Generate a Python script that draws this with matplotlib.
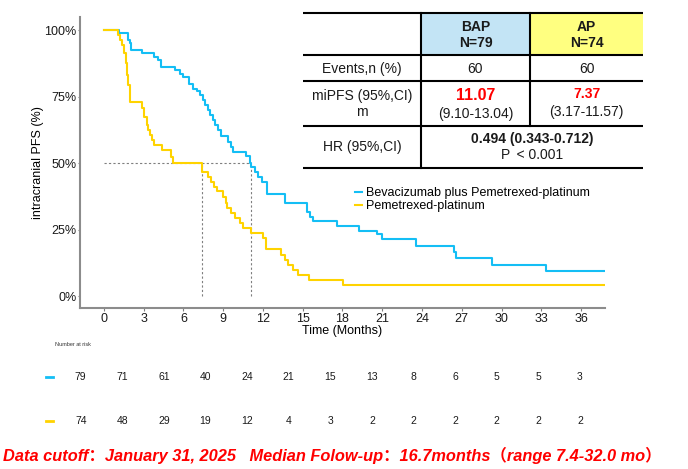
import matplotlib.pyplot as plt
from matplotlib.lines import Line2D
from matplotlib.patches import Rectangle

plt.rcParams['font.family'] = ['Liberation Sans', 'Noto Sans CJK SC', 'DejaVu Sans']

# --- dados ---
bap_t = [0, 1.1, 1.85, 1.95, 2.04, 2.84, 3.77, 4.1, 4.3, 5.35, 5.7, 6.0, 6.45, 6.75, 7.0,
         7.25, 7.5, 7.65, 7.87, 8.0, 8.25, 8.4, 8.63, 8.8, 9.35, 9.6, 9.76, 10.7, 11.0,
         11.1, 11.4, 11.65, 11.9, 12.28, 13.66, 15.3, 15.55, 15.75, 17.6, 19.27, 20.63,
         20.95, 23.55, 26.42, 26.6, 29.26, 33.33, 37.8]
bap_s = [1.0, 0.987, 0.962, 0.95, 0.925, 0.912, 0.899, 0.886, 0.861, 0.848, 0.835, 0.823,
         0.797, 0.78, 0.772, 0.756, 0.737, 0.718, 0.70, 0.68, 0.662, 0.643, 0.624, 0.60,
         0.58, 0.561, 0.54, 0.525, 0.50, 0.486, 0.467, 0.449, 0.43, 0.383, 0.349, 0.317,
         0.298, 0.283, 0.263, 0.246, 0.232, 0.213, 0.188, 0.167, 0.142, 0.117, 0.095, 0.095]

ap_t = [0, 1.02, 1.21, 1.33, 1.53, 1.63, 1.71, 1.84, 1.96, 2.84, 3.04, 3.22, 3.35, 3.47,
        3.65, 3.8, 4.35, 5.06, 5.23, 7.37, 7.87, 8.07, 8.32, 8.5, 8.95, 9.2, 9.32, 9.62,
        9.92, 10.25, 10.5, 11.08, 12.0, 12.2, 13.33, 13.66, 13.86, 14.24, 14.62, 15.5,
        18.07, 37.8]
ap_s = [1.0, 0.981, 0.962, 0.944, 0.912, 0.875, 0.831, 0.793, 0.731, 0.706, 0.674, 0.643,
        0.624, 0.605, 0.586, 0.568, 0.549, 0.524, 0.50, 0.467, 0.449, 0.43, 0.411, 0.393,
        0.373, 0.35, 0.33, 0.311, 0.292, 0.274, 0.255, 0.236, 0.218, 0.176, 0.155, 0.136,
        0.117, 0.098, 0.079, 0.06, 0.041, 0.041]

medians = [11.07, 7.37]
risk_times = [0, 3, 6, 9, 12, 15, 18, 21, 24, 27, 30, 33, 36]
risk_bap = [79, 71, 61, 40, 24, 21, 15, 13, 8, 6, 5, 5, 3]
risk_ap = [74, 48, 29, 19, 12, 4, 3, 2, 2, 2, 2, 2, 2]
group_labels = ['Bevacizumab plus Pemetrexed-platinum', 'Pemetrexed-platinum']

BLUE = '#14BEF5'
YELLOW = '#FFD300'
W, H = 688, 469


def fx(px):
    return px / W


def fy(py):
    return 1 - py / H


fig = plt.figure(figsize=(6.88, 4.69), dpi=100)

# --- curva de KM ---
ax = fig.add_axes([fx(80), fy(308), (605 - 80) / W, (308 - 17) / H])
ax.step(bap_t, bap_s, where='post', color=BLUE, lw=1.5, zorder=3)
ax.step(ap_t, ap_s, where='post', color=YELLOW, lw=1.5, zorder=3)

# linhas das medianas
ax.plot([0, max(medians)], [0.5, 0.5], color='#7f7f7f', lw=0.8, ls=(0, (2, 2)), zorder=2)
for m in medians:
    ax.plot([m, m], [0, 0.5], color='#7f7f7f', lw=0.8, ls=(0, (2, 2)), zorder=2)

ax.set_xlim(-1.81, 37.81)
ax.set_ylim(-0.045, 1.049)
ax.set_xticks(risk_times)
ax.set_yticks([0, 0.25, 0.5, 0.75, 1.0])
ax.set_yticklabels(['0%', '25%', '50%', '75%', '100%'])
ax.tick_params(labelsize=9, colors='#7f7f7f', width=0.8, labelcolor='#1a1a1a')
ax.tick_params(axis='x', length=2.5, pad=1)
ax.tick_params(axis='y', length=1.5, pad=1)
for s in ['top', 'right']:
    ax.spines[s].set_visible(False)
for s in ['left', 'bottom']:
    ax.spines[s].set_color('#8c8c8c')
    ax.spines[s].set_linewidth(1.5)
ax.set_xlabel('Time (Months)', fontsize=9, labelpad=0)
ax.set_ylabel('intracranial PFS (%)', fontsize=9, labelpad=0)

handles = [Line2D([], [], color=BLUE, lw=1.5), Line2D([], [], color=YELLOW, lw=1.5)]
fig.legend(handles, group_labels, loc='upper left', bbox_to_anchor=(fx(355), fy(187)),
           frameon=False, fontsize=9, handlelength=0.55, handletextpad=0.35,
           labelspacing=0.1, borderpad=0, borderaxespad=0)

# --- tabela ---
tb = fig.add_axes([0, 0, 1, 1], zorder=5)
tb.set_xlim(0, W)
tb.set_ylim(H, 0)
tb.axis('off')
tb.add_patch(Rectangle((303, 13), 340, 155, facecolor='white', edgecolor='none'))
tb.add_patch(Rectangle((421, 13), 109, 42, facecolor='#C3E4F5', edgecolor='none'))
tb.add_patch(Rectangle((530, 13), 113, 42, facecolor='#FFFF80', edgecolor='none'))
for yl in [13, 55, 81, 126, 168]:
    tb.plot([303, 643], [yl, yl], color='black', lw=1.5, solid_capstyle='butt')
tb.plot([421, 421], [13, 168], color='black', lw=1.5)
tb.plot([530, 530], [13, 126], color='black', lw=1.5)

tkw = dict(ha='center', va='center', fontsize=10, color='#1a1a1a')
tb.text(475.5, 27, 'BAP', fontweight='bold', **tkw)
tb.text(475.5, 43, 'N=79', fontweight='bold', **tkw)
tb.text(586.5, 27, 'AP', fontweight='bold', **tkw)
tb.text(586.5, 43, 'N=74', fontweight='bold', **tkw)
tb.text(362, 69, 'Events,n (%)', **tkw)
tb.text(475.5, 69, '60', **tkw)
tb.text(586.5, 69, '60', **tkw)
tb.text(362, 96, 'miPFS (95%,CI)', **tkw)
tb.text(362, 112, 'm', **tkw)
tb.text(475.5, 96, '%.2f' % medians[0], ha='center', va='center', fontsize=11.5,
        fontweight='bold', color='#FF0000')
tb.text(475.5, 114, '(9.10-13.04)', **tkw)
tb.text(586.5, 94, '%.2f' % medians[1], ha='center', va='center', fontsize=10,
        fontweight='bold', color='#FF0000')
tb.text(586.5, 112, '(3.17-11.57)', **tkw)
tb.text(362, 147, 'HR (95%,CI)', **tkw)
tb.text(532, 139, '0.494 (0.343-0.712)', fontweight='bold', **tkw)
tb.text(532, 155, 'P \u2009< 0.001', **tkw)

# --- número em risco ---
tb.text(55, 345, 'Number at risk', fontsize=4, ha='left', va='center', color='#333333')
rk = fig.add_axes([fx(55.6), fy(443), (605.1 - 55.6) / W, 88 / H])
rk.set_xlim(-1.81, 37.81)
rk.set_ylim(1.5, -0.5)
rk.axis('off')
for row, (vals, col) in enumerate([(risk_bap, BLUE), (risk_ap, YELLOW)]):
    rk.plot([-2.5, -2.0], [row, row], color=col, lw=2, clip_on=False)
    for t, v in zip(risk_times, vals):
        rk.text(t, row, str(v), ha='center', va='center', fontsize=7.5, color='#1a1a1a')

fig.text(fx(3), fy(455), 'Data cutoff：January 31, 2025   Median Folow-up：16.7months（range 7.4-32.0 mo）',
         ha='left', va='center', fontsize=11.8, color='#FF0000', fontweight='bold', fontstyle='italic')

fig.savefig('out.png', dpi=100)
